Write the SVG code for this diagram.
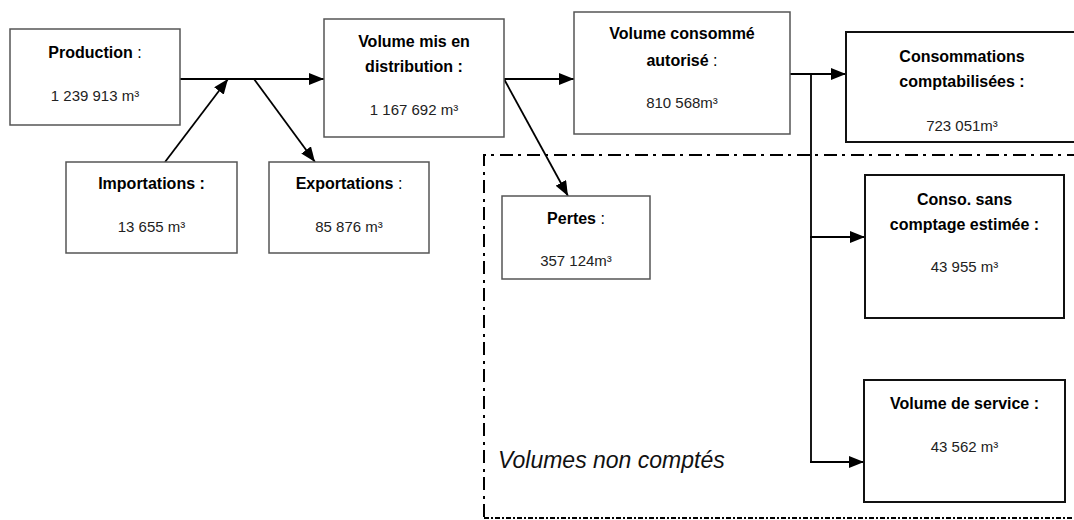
<svg xmlns="http://www.w3.org/2000/svg" width="1074" height="520" viewBox="0 0 1074 520">
<style>
  .box { fill: #fff; stroke: #555; stroke-width: 1.5; }
  .box2 { fill: #fff; stroke: #111; stroke-width: 2; }
  .lbl { font-family: "Liberation Sans", Arial, sans-serif; font-size: 16px; font-weight: bold; fill: #000; text-anchor: middle; }
  .lbl tspan.r { font-weight: normal; }
  .val { font-family: "Liberation Sans", Arial, sans-serif; font-size: 15px; fill: #222; text-anchor: middle; }
  .conn { stroke: #000; stroke-width: 1.8; fill: none; }
  .dd { stroke: #000; stroke-width: 2; fill: none; stroke-dasharray: 13 5 3 6; }
  .note { font-family: "Liberation Sans", Arial, sans-serif; font-size: 23px; font-style: italic; fill: #111; }
</style>
<defs>
  <marker id="arr" markerUnits="userSpaceOnUse" markerWidth="15" markerHeight="12" refX="15" refY="6" orient="auto">
    <path d="M0,0 L15,6 L0,12 z" fill="#000"/>
  </marker>
</defs>
<rect width="1074" height="520" fill="#fff"/>

<g id="region-non-comptes">
  <path class="dd" d="M484,517 L484,155 L1074,155"/>
  <line x1="484" y1="518" x2="1074" y2="518" stroke="#000" stroke-width="2" stroke-dasharray="5 2 2 2"/>
  <text class="note" x="498" y="468">Volumes non comptés</text>
</g>

<g id="connectors">
  <line class="conn" x1="180" y1="79" x2="324" y2="79" marker-end="url(#arr)"/>
  <line class="conn" x1="165" y1="162" x2="228" y2="79" marker-end="url(#arr)"/>
  <line class="conn" x1="254" y1="79" x2="315" y2="162" marker-end="url(#arr)"/>
  <line class="conn" x1="504" y1="79" x2="574" y2="79" marker-end="url(#arr)"/>
  <line class="conn" x1="504" y1="79" x2="568" y2="196" marker-end="url(#arr)"/>
  <line class="conn" x1="790" y1="74" x2="846" y2="74" marker-end="url(#arr)"/>
  <line class="conn" x1="811" y1="74" x2="811" y2="462"/>
  <line class="conn" x1="810" y1="237" x2="865" y2="237" marker-end="url(#arr)"/>
  <line class="conn" x1="810" y1="462" x2="864" y2="462" marker-end="url(#arr)"/>
</g>

<g id="production">
  <rect class="box" x="10" y="29" width="170" height="96"/>
  <text class="lbl" x="95" y="58">Production<tspan class="r"> :</tspan></text>
  <text class="val" x="95" y="101">1 239 913 m³</text>
</g>

<g id="importations">
  <rect class="box" x="66" y="162" width="171" height="91"/>
  <text class="lbl" x="151.5" y="189">Importations :</text>
  <text class="val" x="151.5" y="232">13 655 m³</text>
</g>

<g id="exportations">
  <rect class="box" x="269" y="162" width="160" height="91"/>
  <text class="lbl" x="349" y="189">Exportations<tspan class="r"> :</tspan></text>
  <text class="val" x="349" y="232">85 876 m³</text>
</g>

<g id="volume-mis-en-distribution">
  <rect class="box" x="324" y="19" width="180" height="118"/>
  <text class="lbl" x="414" y="47">Volume mis en</text>
  <text class="lbl" x="414" y="72">distribution :</text>
  <text class="val" x="414" y="115">1 167 692 m³</text>
</g>

<g id="volume-consomme-autorise">
  <rect class="box" x="574" y="12" width="216" height="122"/>
  <text class="lbl" x="682" y="39">Volume consommé</text>
  <text class="lbl" x="682" y="66">autorisé<tspan class="r"> :</tspan></text>
  <text class="val" x="682" y="108">810 568m³</text>
</g>

<g id="pertes">
  <rect class="box" x="502" y="196" width="148" height="83"/>
  <text class="lbl" x="576" y="224">Pertes<tspan class="r"> :</tspan></text>
  <text class="val" x="576" y="266">357 124m³</text>
</g>

<g id="consommations-comptabilisees">
  <rect class="box2" x="846" y="32" width="240" height="110"/>
  <text class="lbl" x="962" y="62">Consommations</text>
  <text class="lbl" x="962" y="87">comptabilisées :</text>
  <text class="val" x="962" y="131">723 051m³</text>
</g>

<g id="conso-sans-comptage">
  <rect class="box2" x="865" y="175" width="199" height="143"/>
  <text class="lbl" x="964.5" y="205">Conso. sans</text>
  <text class="lbl" x="964.5" y="230">comptage estimée :</text>
  <text class="val" x="964.5" y="272">43 955 m³</text>
</g>

<g id="volume-de-service">
  <rect class="box2" x="864" y="380" width="201" height="122"/>
  <text class="lbl" x="964.5" y="409">Volume de service :</text>
  <text class="val" x="964.5" y="452">43 562 m³</text>
</g>
</svg>
